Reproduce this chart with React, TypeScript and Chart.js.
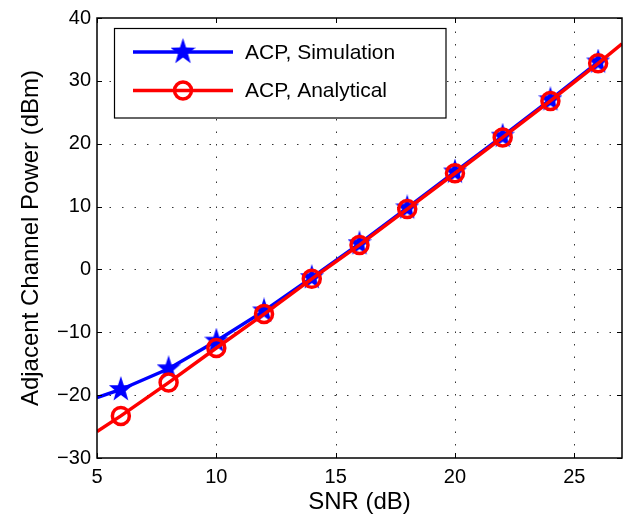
import React, { useEffect, useRef } from "react";
import { Chart, registerables } from "chart.js";

Chart.register(...registerables);

// ---- data ----
const snrSimulation = [5, 6, 8, 10, 12, 14, 16, 18, 20, 22, 24, 26];
const acpSimulation = [-20.4, -19.1, -15.8, -11.4, -6.6, -1.3, 4.1, 9.8, 15.5, 21.2, 27.0, 33.0];
const simMarkerShown = [false, true, true, true, true, true, true, true, true, true, true, true];

const snrAnalytical = [5, 6, 8, 10, 12, 14, 16, 18, 20, 22, 24, 26, 27];
const acpAnalytical = [-25.8, -23.3, -18.0, -12.5, -7.1, -1.5, 3.9, 9.6, 15.3, 21.0, 26.8, 32.8, 35.9];
const anaMarkerShown = [false, true, true, true, true, true, true, true, true, true, true, true, false];

const xTicks = [5, 10, 15, 20, 25];
const yTicks = [-30, -20, -10, 0, 10, 20, 30, 40];
const seriesLabels = ["ACP, Simulation", "ACP, Analytical"];
const xTitle = "SNR (dB)";
const yTitle = "Adjacent Channel Power (dBm)";

const FONT = "'Liberation Sans', Arial, Helvetica, sans-serif";
const BLUE = "#0000ff";
const RED = "#ff0000";

function makeStar(w: number, h: number, color: string): HTMLCanvasElement {
  const c = document.createElement("canvas");
  c.width = w;
  c.height = h;
  const ctx = c.getContext("2d")!;
  const Rx = w / 2 / 0.951;
  const Ry = h / 2;
  const cx = w / 2;
  const cy = h / 2;
  ctx.fillStyle = color;
  ctx.beginPath();
  for (let i = 0; i < 10; i++) {
    const ang = -Math.PI / 2 + (i * Math.PI) / 5;
    const k = i % 2 === 0 ? 1 : 0.4;
    const x = cx + Math.cos(ang) * Rx * k;
    const y = cy + Math.sin(ang) * Ry * k;
    if (i === 0) ctx.moveTo(x, y);
    else ctx.lineTo(x, y);
  }
  ctx.closePath();
  ctx.fill();
  return c;
}

const fmt = (v: number) => (v < 0 ? "\u2212" + Math.abs(v) : String(v));

export default function App() {
  const ref = useRef<HTMLCanvasElement | null>(null);

  useEffect(() => {
    document.body.style.margin = "0";
    const canvas = ref.current!;
    const star = makeStar(24, 27, BLUE);
    const legendStar = makeStar(25, 28, BLUE);

    const gridPlugin = {
      id: "dotgrid",
      beforeDatasetsDraw(chart: any) {
        const { ctx, chartArea: a, scales } = chart;
        ctx.save();
        ctx.strokeStyle = "rgba(0,0,0,0.8)";
        ctx.lineWidth = 1;
        ctx.setLineDash([1.5, 11]);
        ctx.beginPath();
        for (const v of xTicks) {
          const px = Math.round(scales.x.getPixelForValue(v)) + 0.5;
          if (px <= a.left + 1 || px >= a.right - 1) continue;
          ctx.moveTo(px, a.bottom);
          ctx.lineTo(px, a.top);
        }
        for (const v of yTicks) {
          const py = Math.round(scales.y.getPixelForValue(v)) + 0.5;
          if (py <= a.top + 1 || py >= a.bottom - 1) continue;
          ctx.moveTo(a.left, py);
          ctx.lineTo(a.right, py);
        }
        ctx.stroke();
        ctx.restore();
      },
    };

    const framePlugin = {
      id: "frame",
      afterDatasetsDraw(chart: any) {
        const { ctx, chartArea: a, scales } = chart;
        ctx.save();
        // box
        ctx.strokeStyle = "#000";
        ctx.lineWidth = 1.5;
        ctx.strokeRect(a.left, a.top, a.right - a.left, a.bottom - a.top);
        // inward ticks
        const tl = 5;
        ctx.lineWidth = 1;
        ctx.beginPath();
        for (const v of xTicks) {
          const px = Math.round(scales.x.getPixelForValue(v)) + 0.5;
          ctx.moveTo(px, a.bottom);
          ctx.lineTo(px, a.bottom - tl);
          ctx.moveTo(px, a.top);
          ctx.lineTo(px, a.top + tl);
        }
        for (const v of yTicks) {
          const py = Math.round(scales.y.getPixelForValue(v)) + 0.5;
          ctx.moveTo(a.left, py);
          ctx.lineTo(a.left + tl, py);
          ctx.moveTo(a.right, py);
          ctx.lineTo(a.right - tl, py);
        }
        ctx.stroke();

        // legend
        const lx = 114.5, ly = 28.5, lw = 331.5, lh = 89.5;
        ctx.fillStyle = "#fff";
        ctx.fillRect(lx, ly, lw, lh);
        ctx.strokeStyle = "#000";
        ctx.lineWidth = 1.2;
        ctx.strokeRect(lx, ly, lw, lh);
        const rows = [52, 90.5];
        const colors = [BLUE, RED];
        for (let i = 0; i < 2; i++) {
          const y = rows[i];
          ctx.strokeStyle = colors[i];
          ctx.lineWidth = 3.5;
          ctx.beginPath();
          ctx.moveTo(133, y);
          ctx.lineTo(233, y);
          ctx.stroke();
          if (i === 0) {
            ctx.drawImage(legendStar, 183 - legendStar.width / 2, y - legendStar.height / 2);
          } else {
            ctx.beginPath();
            ctx.arc(183, y, 8.5, 0, Math.PI * 2);
            ctx.stroke();
          }
          ctx.fillStyle = "#000";
          ctx.font = `21px ${FONT}`;
          ctx.textAlign = "left";
          ctx.textBaseline = "middle";
          ctx.fillText(seriesLabels[i], 245, y + 1);
        }
        ctx.restore();
      },
    };

    const chart = new Chart(canvas, {
      type: "line",
      data: {
        datasets: [
          {
            label: seriesLabels[1],
            data: snrAnalytical.map((x, i) => ({ x, y: acpAnalytical[i] })),
            borderColor: RED,
            backgroundColor: "rgba(0,0,0,0)",
            borderWidth: 3.5,
            pointStyle: "circle",
            pointRadius: anaMarkerShown.map((s) => (s ? 8.5 : 0)),
            pointBorderWidth: 3.5,
            pointBorderColor: RED,
            pointBackgroundColor: "rgba(0,0,0,0)",
            tension: 0,
            order: 0,
          },
          {
            label: seriesLabels[0],
            data: snrSimulation.map((x, i) => ({ x, y: acpSimulation[i] })),
            borderColor: BLUE,
            backgroundColor: BLUE,
            borderWidth: 3.5,
            pointStyle: simMarkerShown.map((s) => (s ? star : false)) as any,
            pointRadius: simMarkerShown.map((s) => (s ? 12 : 0)),
            tension: 0,
            order: 1,
          },
        ],
      },
      options: {
        animation: false,
        responsive: false,
        events: [],
        layout: { padding: { top: 14, right: 19, left: 0, bottom: 0 } },
        plugins: {
          legend: { display: false },
          tooltip: { enabled: false },
        },
        scales: {
          x: {
            type: "linear",
            min: 5,
            max: 27,
            afterBuildTicks: (s: any) => {
              s.ticks = xTicks.map((v) => ({ value: v }));
            },
            afterFit: (s: any) => {
              s.height = 64;
            },
            grid: { display: false, drawTicks: false },
            border: { display: false },
            ticks: {
              padding: 7,
              maxRotation: 0,
              autoSkip: false,
              color: "#000",
              font: { family: FONT, size: 20 },
              callback: (v: any) => fmt(Number(v)),
            },
            title: {
              display: true,
              text: xTitle,
              color: "#000",
              font: { family: FONT, size: 24 },
              padding: { top: 0, bottom: 5 },
            },
          },
          y: {
            type: "linear",
            min: -30,
            max: 40,
            afterBuildTicks: (s: any) => {
              s.ticks = yTicks.map((v) => ({ value: v }));
            },
            afterFit: (s: any) => {
              s.width = 97;
            },
            grid: { display: false, drawTicks: false },
            border: { display: false },
            ticks: {
              padding: 6,
              autoSkip: false,
              color: "#000",
              font: { family: FONT, size: 20 },
              callback: (v: any) => fmt(Number(v)),
            },
            title: {
              display: true,
              text: yTitle,
              color: "#000",
              font: { family: FONT, size: 24 },
              padding: { top: 17, bottom: 0 },
            },
          },
        },
      },
      plugins: [gridPlugin, framePlugin],
    });

    return () => chart.destroy();
  }, []);

  return (
    <div style={{ width: 641, height: 522 }}>
      <canvas ref={ref} width={641} height={522} style={{ display: "block", width: 641, height: 522 }} />
    </div>
  );
}
